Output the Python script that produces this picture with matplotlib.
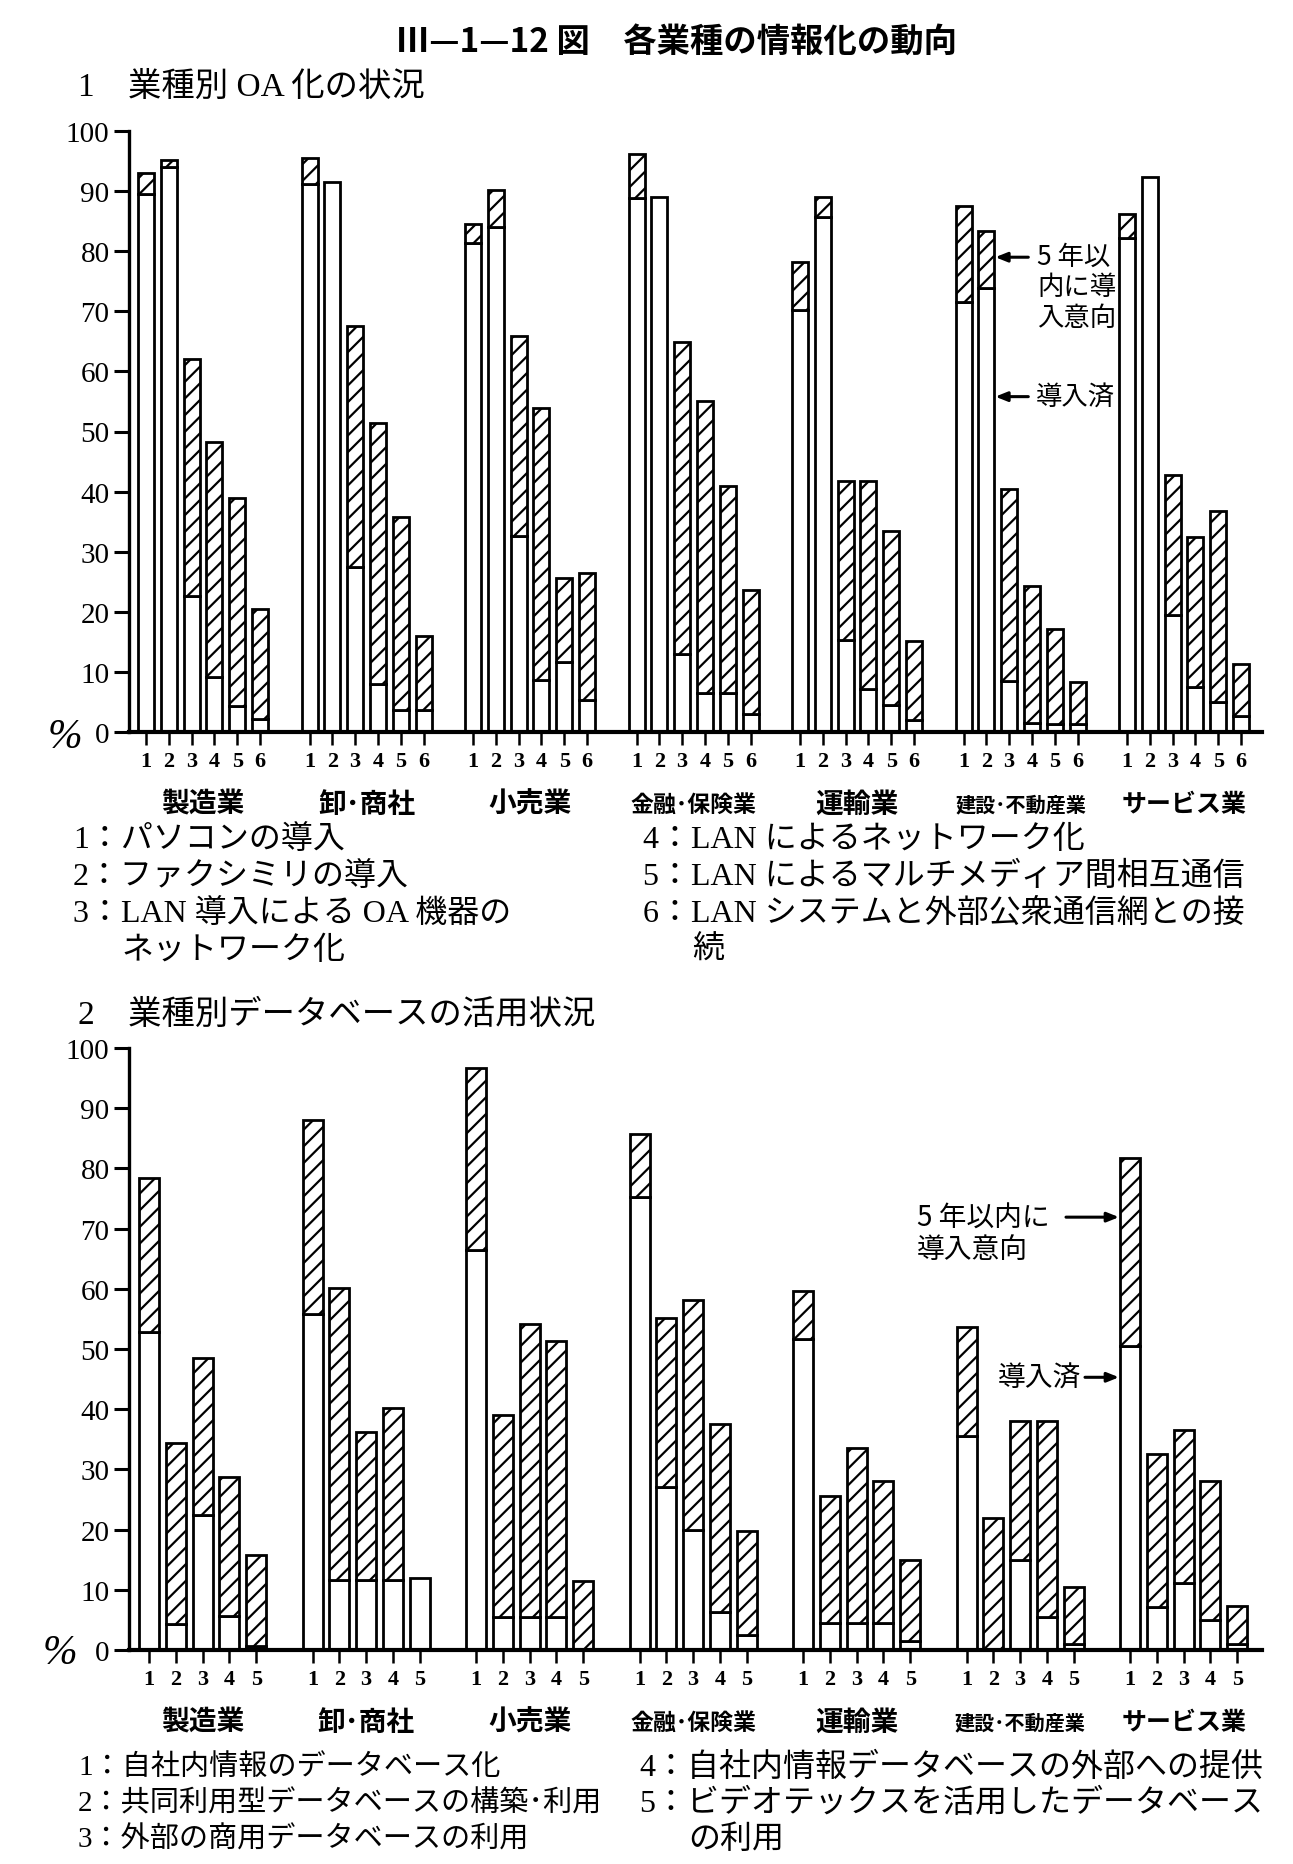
import numpy as np
import matplotlib
matplotlib.use("Agg")
import matplotlib.pyplot as plt
from matplotlib.transforms import blended_transform_factory

W, H = 1293, 1865
CJK = ["Noto Sans CJK JP", "DejaVu Sans"]
MIXED = ["Liberation Serif", "Noto Sans CJK JP", "DejaVu Sans"]
SERIF = ["Liberation Serif", "DejaVu Serif"]

categories = ["製造業", "卸･商社", "小売業", "金融･保険業", "運輸業", "建設･不動産業", "サービス業"]

# 1 業種別OA化の状況 (導入済 / 導入済+5年以内に導入意向)
oa_items = ["1", "2", "3", "4", "5", "6"]
oa_done = [
    [89.5, 94.0, 22.7, 9.1, 4.4, 2.1],
    [91.2, 91.5, 27.5, 8.0, 3.7, 3.7],
    [81.3, 84.1, 32.6, 8.7, 11.6, 5.3],
    [88.9, 89.0, 13.0, 6.5, 6.5, 3.0],
    [70.2, 85.7, 15.3, 7.2, 4.5, 2.0],
    [71.5, 73.8, 8.5, 1.5, 1.3, 1.3],
    [82.2, 92.4, 19.5, 7.5, 5.0, 2.7],
]
oa_total = [
    [93.0, 95.2, 62.0, 48.2, 38.9, 20.5],
    [95.5, 91.5, 67.5, 51.4, 35.7, 16.0],
    [84.5, 90.2, 65.9, 53.9, 25.7, 26.4],
    [96.2, 89.0, 64.9, 55.0, 41.0, 23.7],
    [78.2, 89.0, 41.7, 41.7, 33.5, 15.2],
    [87.6, 83.4, 40.5, 24.3, 17.2, 8.3],
    [86.2, 92.4, 42.8, 32.5, 36.7, 11.3],
]
oa_legend_left = ["1：パソコンの導入", "2：ファクシミリの導入", "3：LAN 導入による OA 機器の", "ネットワーク化"]
oa_legend_right = ["4：LAN によるネットワーク化", "5：LAN によるマルチメディア間相互通信",
                   "6：LAN システムと外部公衆通信網との接", "続"]

# 2 業種別データベースの活用状況
db_items = ["1", "2", "3", "4", "5"]
db_done = [
    [52.9, 4.3, 22.5, 5.6, 0.7],
    [55.8, 11.7, 11.7, 11.7, 11.9],
    [66.4, 5.5, 5.5, 5.5, 0.0],
    [75.3, 27.0, 20.0, 6.3, 2.5],
    [51.6, 4.5, 4.5, 4.5, 1.5],
    [35.6, 0.0, 15.0, 5.5, 1.0],
    [50.5, 7.2, 11.2, 5.0, 1.0],
]
db_total = [
    [78.4, 34.4, 48.5, 28.8, 15.8],
    [88.1, 60.2, 36.2, 40.2, 11.9],
    [96.6, 39.0, 54.2, 51.4, 11.5],
    [85.7, 55.1, 58.2, 37.5, 19.8],
    [59.7, 25.5, 33.5, 28.0, 15.0],
    [53.6, 22.0, 38.0, 38.0, 10.5],
    [81.8, 32.5, 36.5, 28.0, 7.3],
]
db_legend_left = ["1：自社内情報のデータベース化", "2：共同利用型データベースの構築･利用",
                  "3：外部の商用データベースの利用"]
db_legend_right = ["4：自社内情報データベースの外部への提供", "5：ビデオテックスを活用したデータベース",
                   "の利用"]

plt.rcParams["hatch.linewidth"] = 1.6
GROUP = 163.5
label_size = {"金融･保険業": 16.5, "建設･不動産業": 14.5, "サービス業": 18}

fig = plt.figure(figsize=(W / 100, H / 100), dpi=100)


def fig_text(x, y, s, **kw):
    fig.text(x / W, 1 - y / H, s, **kw)


def draw_panel(left, top, right, bottom, done, total, items, step, width, first):
    ax = fig.add_axes([left / W, 1 - bottom / H, (right - left) / W, (bottom - top) / H])
    done = np.array(done)
    total = np.array(total)
    n = len(items)
    pos = (np.arange(len(categories))[:, None] * GROUP + np.arange(n)[None, :] * step).ravel()
    ax.bar(pos, done.ravel(), width, color="white", edgecolor="black", linewidth=2.0, zorder=2)
    extra = (total - done).ravel()
    m = extra > 0
    ax.bar(pos[m], extra[m], width, bottom=done.ravel()[m], color="white", edgecolor="black",
           hatch="//", linewidth=2.0, zorder=2)
    ax.set_xlim(left - first, right - first)
    ax.set_ylim(0, 100)
    for s in ["top", "right"]:
        ax.spines[s].set_visible(False)
    ax.spines["left"].set_linewidth(2.4)
    ax.spines["bottom"].set_linewidth(3.0)
    ax.set_xticks(pos)
    ax.set_xticklabels(items * len(categories), fontfamily=SERIF, fontsize=16, fontweight="bold")
    ax.set_yticks(np.arange(0, 101, 10))
    ax.set_yticklabels([str(v) for v in range(0, 101, 10)], fontfamily=SERIF, fontsize=21)
    ax.tick_params(axis="x", length=9.5, width=1.8, pad=4)
    ax.tick_params(axis="y", length=11, width=2.2, pad=3)
    tr = blended_transform_factory(ax.transData, ax.transAxes)
    for g, cat in enumerate(categories):
        ax.text(g * GROUP + (n - 1) * step / 2, -72 / (bottom - top), cat, transform=tr,
                ha="center", va="center", fontfamily=CJK, fontweight="bold",
                fontsize=label_size.get(cat, 20))
    return ax


arrow = dict(arrowstyle="-|>,head_length=0.7,head_width=0.28", color="black", lw=2.2,
             shrinkA=0, shrinkB=0)

# title
fig_text(677, 42, "Ⅲ—1—12 図　各業種の情報化の動向", ha="center", va="center",
         fontsize=24, fontweight="bold", fontfamily=CJK)

# panel 1
fig_text(78, 87, "1　業種別 OA 化の状況", ha="left", va="center", fontsize=24, fontfamily=MIXED)
S1, W1 = 22.8, 16
ax1 = draw_panel(129, 132, 1262, 733, oa_done, oa_total, oa_items, S1, W1, 146)
fig_text(82, 738, "%", ha="right", va="center", fontsize=30, fontfamily=SERIF, style="italic")
bx = 5 * GROUP + S1 + W1 / 2 + 1
ax1.annotate("", xy=(bx, 79), xytext=(bx + 33, 79), arrowprops=arrow)
ax1.annotate("5 年以\n内に導\n入意向", xy=(bx, 79), xytext=(42, 14), textcoords="offset pixels",
             ha="left", va="top", fontsize=19, fontfamily=CJK, linespacing=1.15)
ax1.annotate("", xy=(bx, 55.8), xytext=(bx + 33, 55.8), arrowprops=arrow)
ax1.annotate("導入済", xy=(bx, 55.8), xytext=(40, 0), textcoords="offset pixels",
             ha="left", va="center", fontsize=19, fontfamily=CJK)

for i, s in enumerate(oa_legend_left):
    fig_text(73 if i < 3 else 122, 840 + 37 * i, s, ha="left", va="center", fontsize=23, fontfamily=MIXED)
for i, s in enumerate(oa_legend_right):
    fig_text(643 if i < 3 else 692, 840 + 37 * i, s, ha="left", va="center", fontsize=23, fontfamily=MIXED)

# panel 2
fig_text(78, 1015, "2　業種別データベースの活用状況", ha="left", va="center", fontsize=24, fontfamily=MIXED)
S2, W2 = 26.8, 20
ax2 = draw_panel(129, 1049, 1262, 1651, db_done, db_total, db_items, S2, W2, 149)
fig_text(77, 1654, "%", ha="right", va="center", fontsize=30, fontfamily=SERIF, style="italic")
lx = 6 * GROUP - W2 / 2 - 1
ax2.annotate("", xy=(lx, 71.9), xytext=(lx - 53, 71.9), arrowprops=arrow)
ax2.annotate("5 年以内に\n導入意向", xy=(lx, 71.9), xytext=(-202, 14), textcoords="offset pixels",
             ha="left", va="top", fontsize=20, fontfamily=CJK, linespacing=1.05)
ax2.annotate("", xy=(lx, 45.3), xytext=(lx - 34, 45.3), arrowprops=arrow)
ax2.annotate("導入済", xy=(lx, 45.3), xytext=(-38, 0), textcoords="offset pixels",
             ha="right", va="center", fontsize=20, fontfamily=CJK)

for i, s in enumerate(db_legend_left):
    fig_text(78, 1768 + 36 * i, s, ha="left", va="center", fontsize=21, fontfamily=MIXED)
for i, s in enumerate(db_legend_right):
    fig_text(639 if i < 2 else 688, 1768 + 36 * i, s, ha="left", va="center", fontsize=23, fontfamily=MIXED)

fig.savefig("out.png", dpi=100)
